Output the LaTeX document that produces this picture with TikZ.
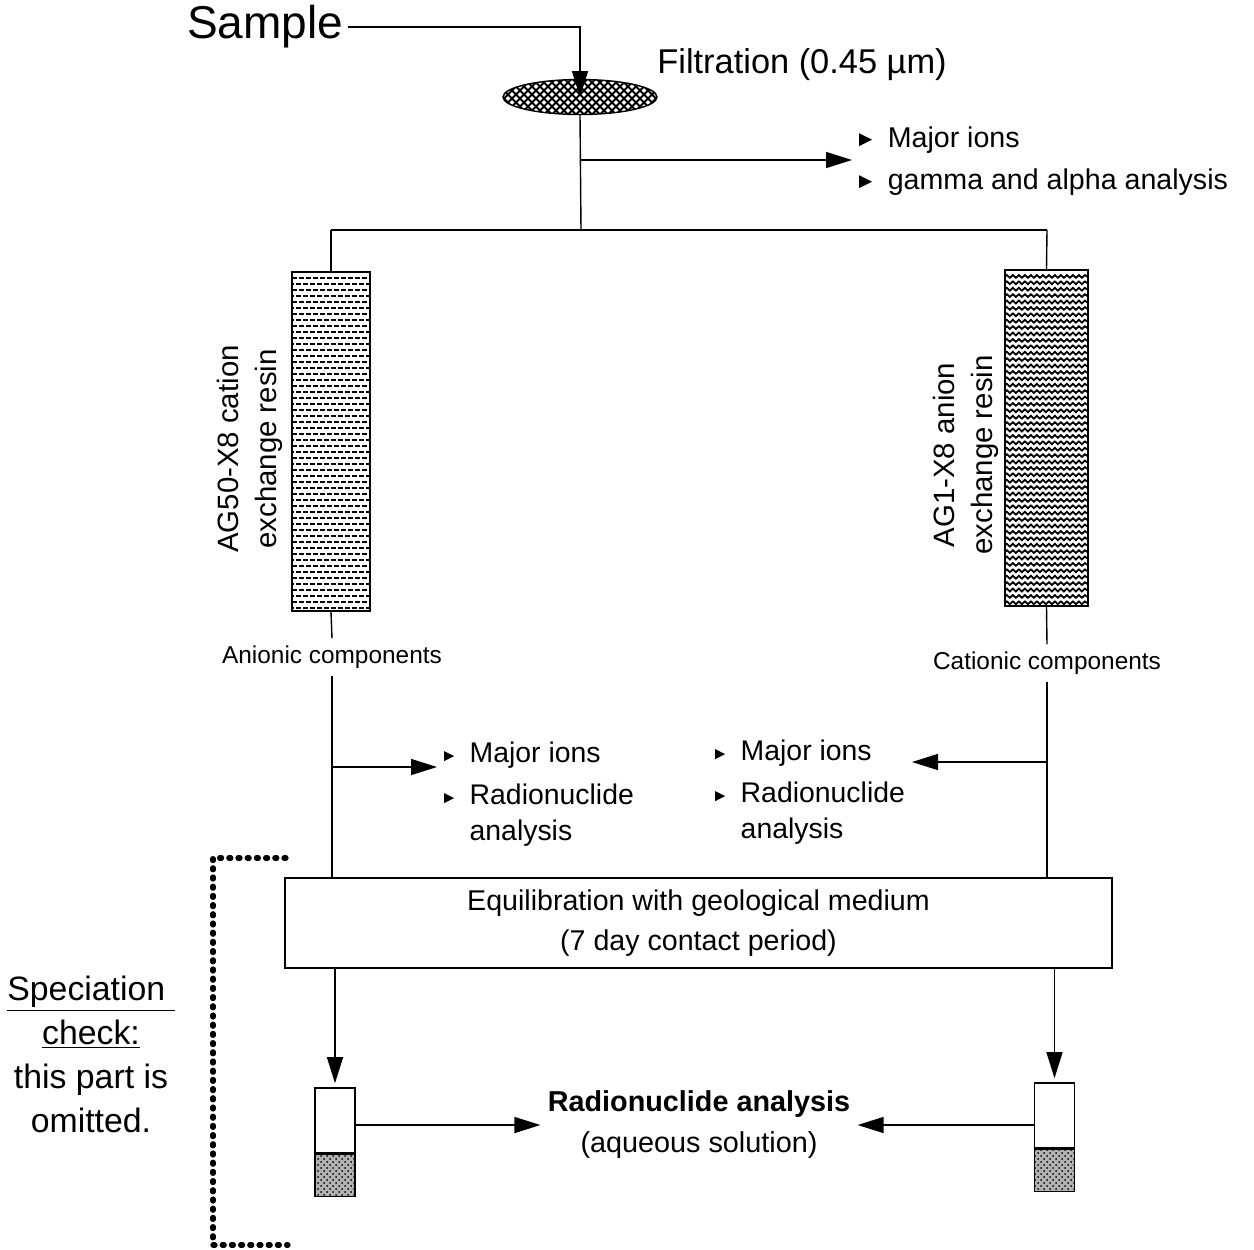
\documentclass[tikz,border=0pt]{standalone}
\usepackage{fontspec}
\setmainfont{Liberation Sans}
\usetikzlibrary{arrows.meta, shapes, patterns, decorations.pathmorphing}

\newcommand{\bul}[1][6]{\tikz[baseline=0pt]\fill (0pt,0.6pt) -- (0pt,#1pt+0.6pt) -- (#1pt,#1pt/2+0.6pt) -- cycle;\hspace{0.55em}}

\tikzset{
  big/.style={font=\fontsize{23}{28}\selectfont},
  mid/.style={font=\fontsize{17.2}{22}\selectfont},
  txt/.style={font=\fontsize{14.3}{20}\selectfont},
  small/.style={font=\fontsize{12.2}{15}\selectfont},
  rot/.style={font=\fontsize{14.7}{19}\selectfont, rotate=90, align=center},
  resin/.style={draw, line width=1pt, inner sep=0pt},
  vial/.style={draw, line width=0.8pt, inner sep=0pt, minimum width=20pt},
  sand/.style={preaction={fill=black!30}, pattern=crosshatch dots},
  dotbracket/.style={line width=2.6pt, line cap=round, dash pattern=on 1pt off 3.6pt},
}

\begin{document}
\begin{tikzpicture}[x=0.5pt, y=-0.5pt, line width=0.7pt,
                    >={Triangle[length=13pt,width=8pt]}]
\useasboundingbox (0,0) rectangle (1254,1249);

% filtration
\node[big, inner sep=2pt] (sample) at (265,27) {Sample};
\node[ellipse, draw, inner sep=0pt, minimum width=77pt, minimum height=17.5pt,
      path picture={
        \foreach \k in {-12,...,12}
          \draw[line width=0.9pt] ([xshift=\k*4pt-10pt]path picture bounding box.south) -- ++(20pt,20pt)
                                  ([xshift=\k*4pt+10pt]path picture bounding box.south) -- ++(-20pt,20pt);
      }] (filt) at (580,97) {};
\node[mid, anchor=west] (filtlab) at (650,65) {Filtration (0.45 µm)};
\node[txt, font=\fontsize{14.3}{21}\selectfont, anchor=west, align=left] (topbul) at (852,161)
  {\bul[6.5]Major ions\\\bul[6.5]gamma and alpha analysis};

\coordinate (fsplit) at (581,160);
\coordinate (bl) at (331,230);
\coordinate (bm) at (581,230);
\coordinate (br) at (1047,230);

% resin columns
\node[resin, minimum width=39pt, minimum height=169.5pt,
      path picture={
        \foreach \k in {1,3,...,55}
          \draw[line width=1.2pt, dash pattern=on 2.6pt off 0.9pt]
            ([yshift=-\k*3pt]path picture bounding box.north west) --
            ([yshift=-\k*3pt]path picture bounding box.north east);
        \foreach \k in {2,4,...,56}
          \draw[line width=1.2pt, dash pattern=on 2.6pt off 0.9pt, dash phase=1.7pt]
            ([yshift=-\k*3pt]path picture bounding box.north west) --
            ([yshift=-\k*3pt]path picture bounding box.north east);
      }] (cres) at (331,441.5) {};
\node[resin, minimum width=41.5pt, minimum height=168pt,
      path picture={
        \foreach \k in {1,...,52}
          \draw[line width=0.9pt, decorate, decoration={snake, amplitude=0.7pt, segment length=3pt}]
            ([yshift=-\k*3.2pt]path picture bounding box.north west) --
            ([yshift=-\k*3.2pt]path picture bounding box.north east);
      }] (ares) at (1046.5,438) {};
\node[rot] (clab) at (250,449) {AG50-X8 cation\\exchange resin};
\node[rot] (alab) at (966,455) {AG1-X8 anion\\exchange resin};

\node[small] (anlab) at (332,657) {Anionic components};
\node[small] (catlab) at (1047,663) {Cationic components};

\coordinate (lsplit) at (332,767);
\coordinate (rsplit) at (1047,762);
\node[txt, font=\fontsize{14.2}{18}\selectfont, align=left, anchor=west] (lbul) at (437,794)
  {\bul[5]Major ions\\[3pt]\bul[5]Radionuclide\\\hspace*{12.8pt}analysis};
\node[txt, font=\fontsize{14.2}{18}\selectfont, align=left, anchor=east] (rbul) at (912,792)
  {\bul[5]Major ions\\[3pt]\bul[5]Radionuclide\\\hspace*{12.8pt}analysis};

% equilibration and vials
\node[draw, txt, align=center, line width=0.8pt,
      minimum width=413.5pt, minimum height=45pt] (equi) at (698.5,923)
  {Equilibration with geological medium\\(7 day contact period)};

\node[vial, minimum height=32.5pt] (lvtop) at (335,1120.5) {};
\node[vial, sand, minimum height=21pt, anchor=north] (lvbot) at (lvtop.south) {};
\node[vial, minimum height=32.5pt] (rvtop) at (1054.5,1115.5) {};
\node[vial, sand, minimum height=21pt, anchor=north] (rvbot) at (rvtop.south) {};

\node[txt, font=\fontsize{14.4}{20.5}\selectfont, align=center] (rad) at (699,1125)
  {\textbf{Radionuclide analysis}\\(aqueous solution)};

\node[font=\fontsize{16.9}{22}\selectfont, align=center] (speclab) at (91,1054)
  {\underline{Speciation\ }\\\underline{check:}\\this part is\\omitted.};

% connectors
\draw[->] (sample.east) -| (filt.center);
\draw (filt.south) -- (bm);
\draw[->] (fsplit) -- (fsplit -| topbul.west);
\draw (bl) -- (br);
\draw (bl) -- (cres.north);
\draw (br) -- (ares.north);
\draw (cres.south) -- (anlab.north);
\draw (ares.south) -- (catlab.north);
\draw (anlab.south) -- (equi.north -| anlab);
\draw (catlab.south) -- (equi.north -| catlab);
\draw[->] (lsplit) -- (lsplit -| lbul.west);
\draw[->] (rsplit) -- (rsplit -| rbul.east);
\draw[->, shorten >=2pt] (equi.south -| lvtop) -- (lvtop.north);
\draw[->, shorten >=2pt] (equi.south -| rvtop) -- (rvtop.north);
\draw[->] (lvtop.east |- rad) -- (rad.west);
\draw[->] (rvtop.west |- rad) -- (rad.east);

% speciation bracket
\coordinate (sbt) at (286,858);
\coordinate (sbb) at (288,1245);
\draw[dotbracket] (sbt) -- ++(-73,0) |- (sbb);

\end{tikzpicture}
\end{document}
